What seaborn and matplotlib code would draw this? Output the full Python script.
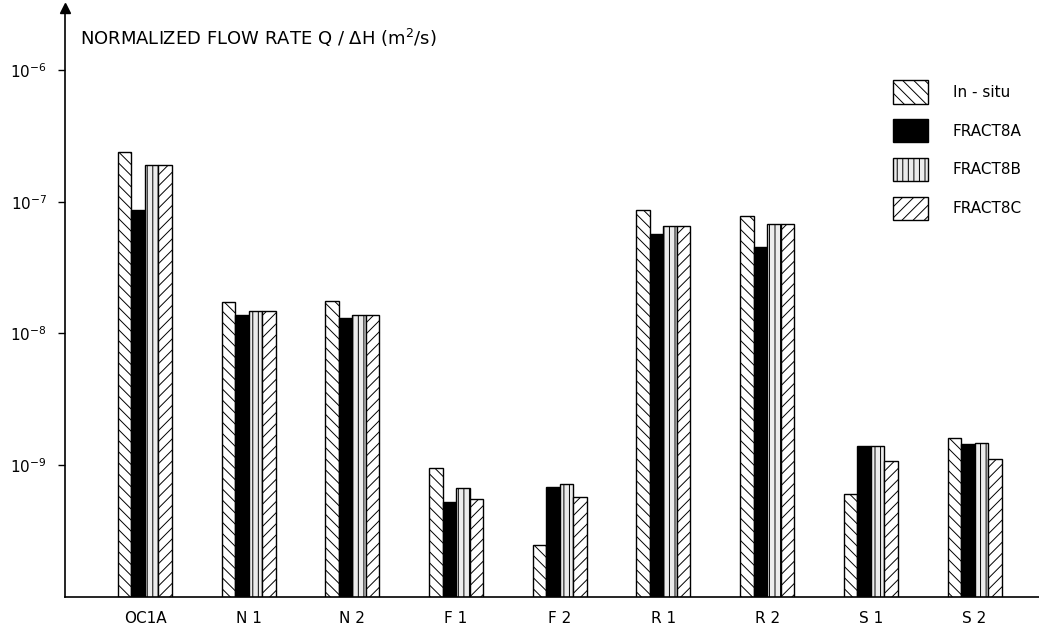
import matplotlib
matplotlib.use("Agg")
import matplotlib.pyplot as plt
import seaborn as sns
import pandas as pd
from matplotlib.patches import Patch

sites = ["OC1A", "N 1", "N 2", "F 1", "F 2", "R 1", "R 2", "S 1", "S 2"]
series = ["In-situ", "FRACT8A", "FRACT8B", "FRACT8C"]
legend_labels = ["In - situ", "FRACT8A", "FRACT8B", "FRACT8C"]
in_situ = [2.4e-7, 1.72e-8, 1.75e-8, 9.5e-10, 2.5e-10, 8.7e-8, 7.8e-8, 6.1e-10, 1.6e-9]
fract8a = [8.7e-8, 1.39e-8, 1.32e-8, 5.3e-10, 6.8e-10, 5.7e-8, 4.5e-8, 1.39e-9, 1.44e-9]
fract8b = [1.9e-7, 1.49e-8, 1.39e-8, 6.7e-10, 7.2e-10, 6.5e-8, 6.8e-8, 1.41e-9, 1.47e-9]
fract8c = [1.9e-7, 1.49e-8, 1.39e-8, 5.5e-10, 5.7e-10, 6.5e-8, 6.8e-8, 1.07e-9, 1.11e-9]
ytick_vals = [1e-9, 1e-8, 1e-7, 1e-6]
ytick_labels = [r"$10^{-9}$", r"$10^{-8}$", r"$10^{-7}$", r"$10^{-6}$"]

rows = []
for name, vals in zip(series, [in_situ, fract8a, fract8b, fract8c]):
    for s, v in zip(sites, vals):
        rows.append({"site": s, "series": name, "value": v})
df = pd.DataFrame(rows)

sns.set_theme(style="white")
plt.rcParams["font.family"] = ["DejaVu Sans"]
plt.rcParams["hatch.linewidth"] = 0.7
plt.rcParams["text.color"] = "black"
plt.rcParams["xtick.color"] = "black"
plt.rcParams["ytick.color"] = "black"

fig = plt.figure(figsize=(10.39, 6.32), dpi=100)
ax = fig.add_axes([65 / 1039, 35 / 632, 0.94, 1 - 35 / 632 - 8 / 632])

sns.barplot(data=df, x="site", y="value", hue="series", order=sites,
            hue_order=series, width=0.52, gap=0, ax=ax, legend=False,
            palette=["white", "black", "#ececec", "white"],
            edgecolor="black", linewidth=1.0, saturation=1, errorbar=None)

styles = {
    "In-situ": dict(facecolor="white", hatch="\\\\\\"),
    "FRACT8A": dict(facecolor="black", hatch=None),
    "FRACT8B": dict(facecolor="#ececec", hatch="|||"),
    "FRACT8C": dict(facecolor="white", hatch="///"),
}
for cont, name in zip(ax.containers, series):
    for p in cont:
        p.set_facecolor(styles[name]["facecolor"])
        if styles[name]["hatch"]:
            p.set_hatch(styles[name]["hatch"])
        p.set_edgecolor("black")

ax.set_yscale("log")
ax.set_ylim(1e-10, 2.95e-6)
ax.set_xlim(-0.771, 8.647)
ax.set_yticks(ytick_vals)
ax.set_yticklabels(ytick_labels, fontsize=11)
ax.minorticks_off()
ax.tick_params(axis="y", which="major", direction="out", length=5, width=1,
               left=True, color="black", pad=8, labelcolor="black")
ax.tick_params(axis="x", length=0, pad=10, labelsize=11, labelcolor="black")
ax.set_xlabel("")
ax.set_ylabel("")
for s in ["top", "right"]:
    ax.spines[s].set_visible(False)
for s in ["left", "bottom"]:
    ax.spines[s].set_color("black")
    ax.spines[s].set_linewidth(1.2)
ax.plot([0], [1], marker="^", color="black", markersize=7,
        transform=ax.transAxes, clip_on=False)

fig.text(80 / 1039, 1 - 38 / 632, r"NORMALIZED FLOW RATE Q / $\Delta$H (m$^2$/s)",
         fontsize=13, va="center", ha="left", color="black")

handles = [Patch(facecolor=styles[n]["facecolor"], hatch=styles[n]["hatch"],
                 edgecolor="black", linewidth=1.0) for n in series]
fig.legend(handles, legend_labels,
           loc="upper left", bbox_to_anchor=(893 / 1039, 1 - 80 / 632),
           frameon=False, fontsize=11, handlelength=2.3, handleheight=2.0,
           handletextpad=1.6, labelspacing=1.0, borderpad=0, borderaxespad=0,
           labelcolor="black")

fig.savefig("out.png", dpi=100, facecolor="white")
